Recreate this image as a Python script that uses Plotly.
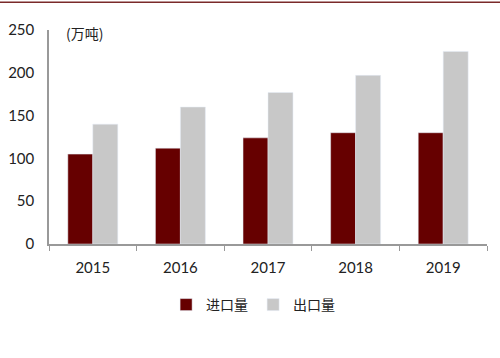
import plotly.graph_objects as go

years = ["2015", "2016", "2017", "2018", "2019"]
imports = [105, 112, 124, 130, 130]
exports = [140, 160, 177, 197, 225]
y_ticks = [0, 50, 100, 150, 200, 250]

fig = go.Figure()
fig.add_trace(go.Bar(name="进口量", x=years, y=imports, marker_color="#660000"))
fig.add_trace(go.Bar(name="出口量", x=years, y=exports, marker_color="#C8C8C8"))

fig.update_layout(
    width=500, height=358,
    margin=dict(l=49, r=13, t=30, b=114, autoexpand=False),
    paper_bgcolor="white", plot_bgcolor="white",
    barmode="group", bargap=0.43, bargroupgap=0,
    font=dict(family="Lato, Noto Sans CJK SC", size=15, color="#222222"),
    showlegend=True,
    legend=dict(orientation="h", x=0.466, xanchor="center", y=-0.285, yanchor="middle",
                font=dict(family="Noto Sans CJK SC", size=14, color="#222222"),
                itemwidth=30, traceorder="normal"),
    xaxis=dict(showline=True, linecolor="#999999", linewidth=1.5, ticks="outside",
               tickson="boundaries", ticklen=5, tickcolor="#999999", showgrid=False,
               tickfont=dict(size=15), ticklabelstandoff=9, automargin=False),
    yaxis=dict(range=[0, 250], tickvals=y_ticks, showline=True, linecolor="#999999",
               linewidth=1.5, showgrid=False, zeroline=False, ticks="", ticklabelstandoff=10,
               tickfont=dict(size=15), automargin=False),
    annotations=[dict(text="(万吨)", xref="paper", yref="paper", x=0.034, y=0.986,
                      xanchor="left", yanchor="middle", showarrow=False,
                      font=dict(family="Noto Sans CJK SC", size=14, color="#222222"))],
    shapes=[dict(type="line", xref="paper", yref="paper", x0=-0.12, x1=1.04,
                 y0=1.13, y1=1.13, line=dict(color="#7a2a2a", width=1.5))],
)

fig.write_html("out.html", post_script="document.body.style.margin='0';",
               config={"displayModeBar": False})
